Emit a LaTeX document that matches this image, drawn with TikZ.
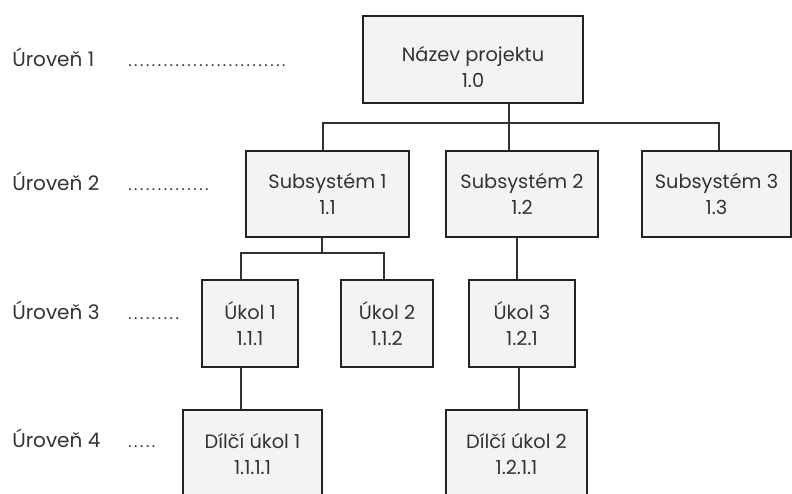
\documentclass[tikz,border=0pt]{standalone}
\usepackage{fontspec}
\setmainfont{Poppins}
\usepackage{xcolor}
\usepackage{tikz}

\definecolor{boxfill}{RGB}{244,242,243}
\definecolor{boxline}{RGB}{34,34,34}
\definecolor{textgray}{RGB}{51,51,51}

\tikzset{
  wbsbox/.style={draw=boxline, fill=boxfill, line width=0.9pt, align=center,
    inner sep=0pt, text=textgray, font=\fontsize{14.5}{19.5}\selectfont},
  levellabel/.style={anchor=base west, inner sep=0pt, text=textgray,
    font=\fontsize{15}{17}\selectfont},
  leveldots/.style={anchor=base west, inner sep=0pt, text=textgray,
    font=\fontsize{12}{14}\selectfont\addfontfeature{LetterSpace=16}},
  wbsline/.style={draw=textgray, line width=0.8pt}
}

\begin{document}
\begin{tikzpicture}[x=0.75pt,y=0.75pt,yscale=-1,xscale=1]
  \useasboundingbox (0,0) rectangle (792,493);
  \clip (0,0) rectangle (792,493);
  % Level labels
  \node [levellabel] (lab1) at (12,66) {Úroveň 1};
  \node [leveldots]  (dot1) at (128,66) {...........................};
  \node [levellabel] (lab2) at (12,190) {Úroveň 2};
  \node [leveldots]  (dot2) at (128,190) {..............};
  \node [levellabel] (lab3) at (12,319) {Úroveň 3};
  \node [leveldots]  (dot3) at (128,319) {.........};
  \node [levellabel] (lab4) at (12,447) {Úroveň 4};
  \node [leveldots]  (dot4) at (128,447) {.....};
  % Boxes
  \node [wbsbox, minimum width=165pt, minimum height=65.25pt] (root) at (473,59.5) {\rule{0pt}{22pt}Název projektu\\1.0};
  \node [wbsbox, minimum width=122.25pt, minimum height=64.5pt] (sub1) at (327.5,194) {Subsystém 1\\1.1};
  \node [wbsbox, minimum width=114pt, minimum height=64.5pt] (sub2) at (522,194) {Subsystém 2\\1.2};
  \node [wbsbox, minimum width=111.75pt, minimum height=64.5pt] (sub3) at (716.5,194) {Subsystém 3\\1.3};
  \node [wbsbox, minimum width=72pt, minimum height=65.25pt] (ukol1) at (250,323.5) {Úkol 1\\1.1.1};
  \node [wbsbox, minimum width=69pt, minimum height=65.25pt] (ukol2) at (387,323.5) {Úkol 2\\1.1.2};
  \node [wbsbox, minimum width=79.5pt, minimum height=65.25pt] (ukol3) at (522,323.5) {Úkol 3\\1.2.1};
  \node [wbsbox, minimum width=104.25pt, minimum height=65.25pt] (dilci1) at (252.5,453.5) {Dílčí úkol 1\\1.1.1.1};
  \node [wbsbox, minimum width=105.75pt, minimum height=65.25pt] (dilci2) at (516.5,453.5) {Dílčí úkol 2\\1.2.1.1};
  % Junctions
  \coordinate (j1a) at (323,123);
  \coordinate (j1m) at (509,123);
  \coordinate (j1b) at (719,123);
  \coordinate (j2a) at (241,253);
  \coordinate (j2m) at (322,253);
  \coordinate (j2b) at (384,253);
  \coordinate (j3) at (517,0);
  \coordinate (j4) at (519,0);
  % Connection
  \draw [wbsline] (root.south -| j1m) -- (j1m |- sub2.north);
  \draw [wbsline] (j1a |- sub1.north) -- (j1a) -- (j1b) -- (j1b |- sub3.north);
  % Connection
  \draw [wbsline] (j2m |- sub1.south) -- (j2m);
  \draw [wbsline] (j2a |- ukol1.north) -- (j2a) -- (j2b) -- (j2b |- ukol2.north);
  % Connection
  \draw [wbsline] (j3 |- sub2.south) -- (j3 |- ukol3.north);
  % Connection
  \draw [wbsline] (j2a |- ukol1.south) -- (j2a |- dilci1.north);
  \draw [wbsline] (j4 |- ukol3.south) -- (j4 |- dilci2.north);
\end{tikzpicture}
\end{document}
